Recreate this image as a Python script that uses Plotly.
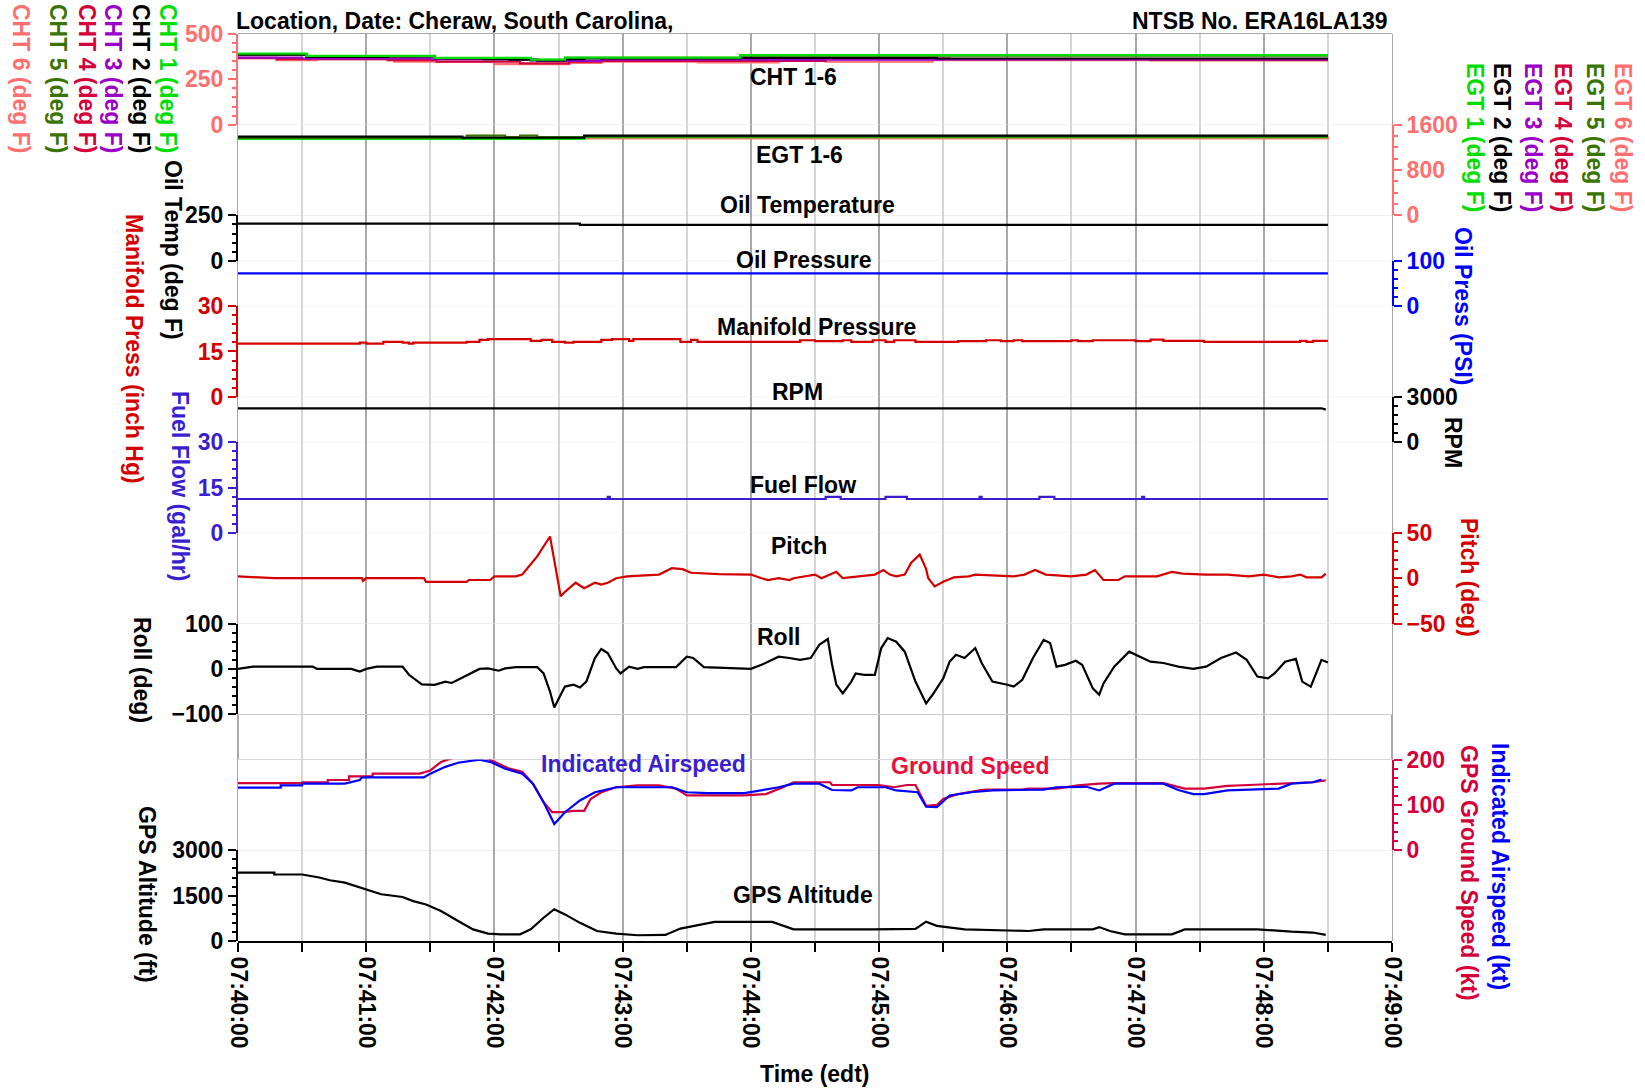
import pandas as pd
import plotly.graph_objects as go

# ---------------- data (seconds after 07:40:00) ----------------
cht1_t = [0, 32, 92, 137, 153, 235, 510]
cht1_v = [392, 379, 368, 359, 370, 383, 383]
cht2_t = [0, 32, 70, 92, 115, 127, 137, 153, 162, 235, 327, 510]
cht2_v = [386, 374, 376, 365, 361, 358, 355, 361, 366, 368, 365, 365]
cht3_t = [0, 30, 90, 140, 170, 330, 510]
cht3_v = [370, 365, 360, 352, 358, 360, 360]
cht4_t = [0, 18, 70, 93, 132, 155, 170, 275, 333, 427, 510]
cht4_v = [368, 361, 356, 347, 338, 347, 352, 365, 361, 356, 356]
cht5_t = [0, 32, 92, 137, 153, 235, 510]
cht5_v = [388, 376, 366, 357, 368, 380, 380]
cht6_t = [0, 18, 37, 73, 120, 155, 170, 215, 253, 275, 325, 510]
cht6_v = [365, 356, 361, 347, 334, 340, 347, 343, 352, 347, 356, 356]

egt1_t = [0, 105, 162, 510]
egt1_v = [1350, 1350, 1380, 1380]
egt2_t = [0, 105, 162, 510]
egt2_v = [1391, 1370, 1409, 1409]
egt3_t = [0, 162, 510]
egt3_v = [1370, 1395, 1395]
egt4_t = [0, 105, 145, 150, 162, 510]
egt4_v = [1370, 1350, 1350, 1360, 1395, 1395]
egt5_t = [0, 107, 125, 132, 140, 162, 510]
egt5_v = [1365, 1409, 1380, 1409, 1380, 1395, 1395]
egt6_t = [0, 510]
egt6_v = [1360, 1390]

oilt_t = [0, 157, 160, 510]
oilt_v = [205, 205, 198, 198]
oilp_t = [0, 510]
oilp_v = [72, 72]

map_t = [0, 57, 60, 68, 77, 80, 82, 107, 113, 117, 137, 142, 147, 153, 157, 170, 175, 183, 185,
         207, 212, 215, 263, 270, 283, 287, 297, 303, 307, 317, 337, 350, 357, 363, 367, 390,
         393, 400, 420, 427, 433, 452, 497, 500, 503, 510]
map_v = [17.6, 17.9, 17.6, 18.2, 17.9, 17.6, 17.9, 18.2, 18.8, 19.1, 18.5, 18.8, 18.2, 17.9, 18.2,
         18.8, 19.1, 18.5, 19.1, 18.2, 18.8, 18.2, 18.7, 18.4, 18.7, 18.2, 18.7, 18.2, 18.7, 18.2,
         18.4, 18.7, 18.4, 18.7, 18.4, 18.7, 18.4, 18.7, 18.4, 18.9, 18.5, 18.2, 18.5, 18.2, 18.5, 18.5]

rpm_t = [0, 507, 509]
rpm_v = [2240, 2240, 2150]

ff_t = [0, 173, 174, 275, 282, 303, 313, 347, 348, 375, 382, 423, 424, 510]
ff_v = [11.2, 11.9, 11.2, 11.9, 11.2, 11.9, 11.2, 11.9, 11.2, 11.9, 11.2, 11.9, 11.2, 11.2]

pitch_t = [0, 17, 58, 58.5, 60, 87, 88, 107, 108, 118, 120, 130, 133, 140, 146, 148, 151, 153,
           158, 162, 167, 170, 173, 177, 182, 197, 203, 208, 212, 225, 240, 245, 248, 253, 258,
           260, 270, 273, 280, 283, 290, 298, 302, 305, 308, 312, 315, 319, 322, 323, 326, 330,
           335, 342, 345, 363, 368, 373, 378, 390, 397, 401, 405, 412, 415, 430, 437, 442, 453,
           463, 473, 480, 487, 493, 497, 500, 507, 509]
pitch_v = [2, 0, 0, -3, 0, 0, -4, -4, -2, -2, 2, 2, 4, 24, 46, 20, -20, -15, -5, -11, -5, -7, -5,
           0, 2, 4, 11, 10, 6, 4.5, 4, 0, -2, 0, -2, 0, 4, 0, 7, 0, 2, 4, 9, 4, 2, 4, 17, 26, 10,
           0, -9, -4, 1, 2, 4, 2, 4, 9, 4, 2, 4, 9, -2, -2, 2, 2, 7, 5, 4, 4, 2, 4, 1, 2, 4, 1, 1, 5]

roll_t = [0, 7, 35, 37, 53, 57, 60, 65, 77, 80, 86, 92, 97, 100, 103, 110, 113, 117, 122, 125,
          130, 140, 143, 146, 148, 151, 153, 157, 160, 163, 167, 170, 173, 177, 179, 183, 187,
          190, 205, 210, 213, 218, 240, 245, 253, 258, 263, 268, 272, 276, 278, 280, 283, 287,
          289, 293, 298, 301, 304, 308, 312, 317, 322, 325, 330, 333, 336, 340, 345, 348, 353,
          360, 363, 367, 372, 377, 380, 383, 387, 392, 395, 400, 403, 405, 410, 417, 422, 427,
          433, 440, 447, 453, 460, 467, 472, 477, 482, 485, 490, 495, 498, 502, 507, 510]
roll_v = [0, 5, 5, 0, 0, -6, 0, 5, 5, -13, -34, -35, -28, -31, -24, -6, 0, 1, -4, 1, 4, 4, -10,
          -50, -85, -57, -39, -35, -41, -28, 24, 44, 35, 1, -10, 5, 0, 4, 4, 27, 24, 4, 0, 9, 27,
          24, 20, 24, 53, 66, 9, -35, -54, -28, -10, -13, -13, 46, 68, 60, 38, -28, -76, -57,
          -21, 16, 31, 24, 46, 13, -28, -35, -39, -24, 24, 64, 57, 5, 9, 18, 9, -43, -57, -32, 5,
          38, 27, 16, 13, 5, 0, 5, 24, 36, 20, -17, -21, -10, 16, 22, -28, -39, 20, 14]

gs_t = [0, 30, 30, 42, 42, 52, 52, 63, 63, 85, 90, 95, 102, 115, 120, 127, 133, 138, 143, 147,
        152, 157, 162, 165, 170, 177, 187, 197, 205, 210, 237, 247, 255, 260, 277, 278, 300,
        307, 313, 317, 322, 327, 330, 337, 347, 350, 367, 370, 383, 393, 403, 410, 433, 440,
        443, 452, 463, 473, 493, 503, 509]
gs_v = [148, 148, 150, 150, 155, 155, 163, 163, 169, 169, 176, 195, 206, 206, 195, 180, 173, 147,
        106, 84, 84, 87, 87, 113, 128, 139, 143, 143, 136, 121, 121, 124, 139, 150, 150, 144,
        144, 139, 144, 144, 98, 100, 113, 124, 132, 134, 134, 136, 136, 143, 147, 148, 148, 139,
        136, 136, 142, 144, 148, 150, 154]

ias_t = [0, 20, 20, 30, 30, 50, 57, 58, 87, 90, 97, 103, 113, 118, 125, 133, 138, 143, 148, 153,
         160, 167, 177, 203, 210, 220, 237, 245, 253, 260, 272, 278, 287, 290, 303, 308, 318,
         322, 327, 333, 343, 353, 367, 377, 383, 397, 403, 410, 433, 440, 447, 452, 463, 487,
         493, 503, 507]
ias_v = [138, 138, 143, 143, 147, 147, 155, 161, 161, 169, 184, 193, 200, 195, 180, 169, 147, 106,
         58, 84, 110, 128, 139, 139, 128, 126, 126, 132, 139, 147, 147, 133, 132, 139, 139, 132,
         128, 96, 95, 121, 128, 132, 134, 134, 139, 140, 132, 147, 147, 133, 124, 124, 132, 136,
         147, 150, 156]

alt_t = [0, 17, 17, 30, 38, 43, 50, 60, 67, 77, 82, 88, 95, 103, 110, 117, 123, 132, 137, 143,
         148, 153, 160, 168, 177, 187, 200, 207, 217, 223, 250, 260, 297, 317, 322, 327, 340,
         370, 377, 400, 403, 408, 415, 437, 443, 477, 493, 503, 509]
alt_v = [2260, 2260, 2200, 2200, 2100, 2010, 1930, 1710, 1545, 1455, 1320, 1210, 990, 660, 385,
         243, 220, 220, 385, 770, 1050, 880, 600, 330, 243, 190, 200, 410, 550, 630, 630, 385,
         385, 400, 640, 500, 385, 330, 385, 385, 460, 330, 220, 220, 385, 385, 310, 280, 200]

x_range_s = [0, 540]
header_left = "Location, Date: Cheraw, South Carolina,"
header_right = "NTSB No. ERA16LA139"
x_title = "Time (edt)"

# ---------------- styling ----------------
FONT = "Liberation Sans"
FS = 23
T0 = pd.Timestamp("2016-01-01 07:40:00")


def ts(secs):
    return [T0 + pd.Timedelta(seconds=float(s)) for s in secs]


SALMON = "#ff6f6f"
GREEN = "#00dd00"
PURPLE = "#9a00c8"
CRIMSON = "#d4003a"
DKGREEN = "#3a7400"
RED = "#d40000"
BLUE = "#0000ff"
VIOLET = "#3a1fd0"

fig = go.Figure()

# background subplot (grid)
fig.add_trace(go.Scatter(x=ts(x_range_s), y=[None, None], xaxis="x", yaxis="y",
                         mode="lines", showlegend=False, hoverinfo="skip"))


def line(t, v, color, axis, shape="linear", width=2.2):
    fig.add_trace(go.Scatter(x=ts(t), y=v, mode="lines", xaxis="x", yaxis=axis,
                             line=dict(color=color, width=width, shape=shape),
                             showlegend=False, hoverinfo="skip"))


# CHT
line(cht6_t, cht6_v, SALMON, "y2", "hv")
line(cht5_t, cht5_v, DKGREEN, "y2", "hv")
line(cht4_t, cht4_v, CRIMSON, "y2", "hv")
line(cht3_t, cht3_v, PURPLE, "y2", "hv")
line(cht2_t, cht2_v, "black", "y2", "hv")
line(cht1_t, cht1_v, GREEN, "y2", "hv")
# EGT
line(egt6_t, egt6_v, SALMON, "y3", "hv")
line(egt3_t, egt3_v, PURPLE, "y3", "hv")
line(egt4_t, egt4_v, CRIMSON, "y3", "hv")
line(egt1_t, egt1_v, GREEN, "y3", "hv")
line(egt5_t, egt5_v, DKGREEN, "y3", "hv")
line(egt2_t, egt2_v, "black", "y3", "hv")

line(oilt_t, oilt_v, "black", "y4", "hv")
line(oilp_t, oilp_v, BLUE, "y5")
line(map_t, map_v, RED, "y6", "hv")
line(rpm_t, rpm_v, "black", "y7")
line(ff_t, ff_v, VIOLET, "y8", "hv")
line(pitch_t, pitch_v, RED, "y9")
line(roll_t, roll_v, "black", "y10")
line(gs_t, gs_v, CRIMSON, "y11")
line(ias_t, ias_v, BLUE, "y11")
line(alt_t, alt_v, "black", "y12")


def yax(domain, rng, dtick, minor, side, color):
    return dict(domain=domain, range=rng, anchor="x", side=side, automargin=False,
                tickmode="linear", tick0=0, dtick=dtick,
                ticks="outside", ticklen=8, tickwidth=2, tickcolor=color,
                minor=dict(dtick=minor, tick0=0, ticks="outside", ticklen=4,
                           tickwidth=1.5, tickcolor=color, showgrid=False),
                showline=True, linecolor=color, linewidth=2,
                showgrid=False, zeroline=False,
                tickfont=dict(family=FONT, size=FS, color=color, weight="bold"),
                fixedrange=True)


U = 1 / 20
layout_axes = dict(
    yaxis=dict(domain=[0, 1], range=[0, 20], tickmode="linear", tick0=0, dtick=1,
               automargin=False,
               showgrid=True, gridcolor="#bdbdbd", gridwidth=2, showticklabels=False,
               ticks="", showline=False, zeroline=False, fixedrange=True),
    yaxis2=yax([18 * U, 1], [0, 500], 250, 50, "left", SALMON),
    yaxis3=yax([16 * U, 18 * U], [0, 1600], 800, 200, "right", SALMON),
    yaxis4=yax([15 * U, 16 * U], [0, 250], 250, 50, "left", "black"),
    yaxis5=yax([14 * U, 15 * U], [0, 100], 100, 20, "right", BLUE),
    yaxis6=yax([12 * U, 14 * U], [0, 30], 15, 3, "left", RED),
    yaxis7=yax([11 * U, 12 * U], [0, 3000], 3000, 600, "right", "black"),
    yaxis8=yax([9 * U, 11 * U], [0, 30], 15, 3, "left", VIOLET),
    yaxis9=yax([7 * U, 9 * U], [-50, 50], 50, 10, "right", RED),
    yaxis10=yax([5 * U, 7 * U], [-100, 100], 100, 20, "left", "black"),
    yaxis11=yax([2 * U, 4 * U], [0, 200], 100, 20, "right", CRIMSON),
    yaxis12=yax([0, 2 * U], [0, 3000], 1500, 300, "left", "black"),
)

xr = ts(x_range_s)
fig.update_layout(
    width=1645, height=1089,
    margin=dict(l=238, r=253, t=34, b=148, autoexpand=False),
    paper_bgcolor="white", plot_bgcolor="white",
    showlegend=False,
    xaxis=dict(type="date", range=xr, anchor="y", tickformat="%H:%M:%S", automargin=False,
               tickmode="linear", tick0=xr[0], dtick=60000, tickangle=90,
               ticks="outside", ticklen=9, tickwidth=1.5, tickcolor="black",
               minor=dict(dtick=30000, tick0=xr[0], ticks="outside", ticklen=9,
                          tickwidth=1.5, tickcolor="black", showgrid=True,
                          gridcolor="#d6d6d6", gridwidth=1.5),
               showgrid=True, gridcolor="#a8a8a8", gridwidth=1.5,
               showline=True, linecolor="black", linewidth=2, zeroline=False,
               tickfont=dict(family=FONT, size=FS, color="black", weight="bold"),
               fixedrange=True),
    **layout_axes,
)

# frame lines
for x0, y0, x1, y1 in [(0, 1, 1, 1), (0, 0, 0, 1), (1, 0, 1, 1)]:
    fig.add_shape(type="line", xref="paper", yref="paper", x0=x0, y0=y0, x1=x1, y1=y1,
                  line=dict(color="#a8a8a8", width=2), layer="below")

PL, PR, PT, PB = 238, 1392, 34, 941


def px(x):
    return (x - PL) / (PR - PL)


def py(y):
    return (PB - y) / (PB - PT)


def ann(text, x, y, color="black", angle=0, xanchor="center", yanchor="middle", size=FS):
    fig.add_annotation(text=text, x=px(x), y=py(y), xref="paper", yref="paper",
                       showarrow=False, textangle=angle, xanchor=xanchor, yanchor=yanchor,
                       font=dict(family=FONT, size=size, color=color, weight="bold"))


# header
ann(header_left, 234, 21, xanchor="left")
ann(header_right, 1390, 21, xanchor="right")
ann(x_title, 814, 1074)

# left axis titles
ann("CHT 6 (deg F)", 21, 79, SALMON, 90)
ann("CHT 5 (deg F)", 58, 79, DKGREEN, 90)
ann("CHT 4 (deg F)", 87, 79, CRIMSON, 90)
ann("CHT 3 (deg F)", 113, 79, PURPLE, 90)
ann("CHT 2 (deg F)", 141, 79, "black", 90)
ann("CHT 1 (deg F)", 168, 79, GREEN, 90)
ann("Oil Temp (deg F)", 173, 250, "black", 90)
ann("Manifold Press (inch Hg)", 134, 349, RED, 90)
ann("Fuel Flow (gal/hr)", 180, 486, VIOLET, 90)
ann("Roll (deg)", 142, 670, "black", 90)
ann("GPS Altitude (ft)", 147, 894, "black", 90)

# right axis titles
ann("EGT 1 (deg F)", 1475, 215, GREEN, 90, yanchor="bottom")
ann("EGT 2 (deg F)", 1502, 215, "black", 90, yanchor="bottom")
ann("EGT 3 (deg F)", 1533, 215, PURPLE, 90, yanchor="bottom")
ann("EGT 4 (deg F)", 1563, 215, CRIMSON, 90, yanchor="bottom")
ann("EGT 5 (deg F)", 1595, 215, DKGREEN, 90, yanchor="bottom")
ann("EGT 6 (deg F)", 1623, 215, SALMON, 90, yanchor="bottom")
ann("Oil Press (PSI)", 1463, 306, BLUE, 90)
ann("RPM", 1453, 442, "black", 90)
ann("Pitch (deg)", 1469, 577, RED, 90)
ann("GPS Ground Speed (kt)", 1469, 873, CRIMSON, 90)
ann("Indicated Airspeed (kt)", 1500, 866, BLUE, 90)

# panel labels
ann("CHT 1-6", 793, 77)
ann("EGT 1-6", 799, 155)
ann("Oil Temperature", 807, 205)
ann("Oil Pressure", 804, 260)
ann("Manifold Pressure", 816, 327)
ann("RPM", 797, 392)
ann("Fuel Flow", 803, 485)
ann("Pitch", 799, 546)
ann("Roll", 778, 637)
ann("Indicated Airspeed", 643, 764, VIOLET)
ann("Ground Speed", 970, 766, "#e8103a")
ann("GPS Altitude", 803, 895)

fig.write_html("out.html", config={"displayModeBar": False},
               post_script="document.body.style.margin='0px';document.body.style.overflow='hidden';")
